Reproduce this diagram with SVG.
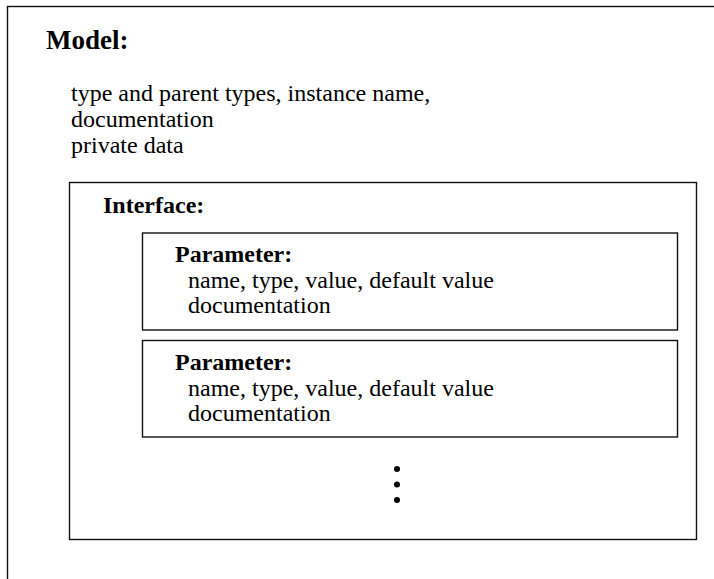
<svg xmlns="http://www.w3.org/2000/svg" width="714" height="579" viewBox="0 0 714 579">
  <style>
    .box { fill: none; stroke: #111; stroke-width: 1.4; }
    .head { font-family: "Liberation Serif", "Times New Roman", serif; font-weight: bold; fill: #000; }
    .body { font-family: "Liberation Serif", "Times New Roman", serif; font-size: 24px; fill: #000; }
    .dot { fill: #000; }
  </style>
  <rect width="714" height="579" fill="#fff"/>

  <!-- Model container (runs past the right and bottom edges) -->
  <g id="model">
    <rect class="box" x="7.5" y="6.5" width="800" height="700"/>
    <text class="head" x="46" y="49" font-size="27">Model:</text>
    <text class="body" x="71" y="101">type and parent types, instance name,</text>
    <text class="body" x="71" y="127">documentation</text>
    <text class="body" x="71" y="153">private data</text>
  </g>

  <!-- Interface container -->
  <g id="interface">
    <rect class="box" x="69.5" y="182.5" width="627" height="357"/>
    <text class="head" x="103" y="213" font-size="24">Interface:</text>
  </g>

  <!-- First parameter -->
  <g id="parameter1">
    <rect class="box" x="142.5" y="233" width="535" height="97"/>
    <text class="head" x="175" y="262" font-size="24">Parameter:</text>
    <text class="body" x="188" y="288">name, type, value, default value</text>
    <text class="body" x="188" y="313">documentation</text>
  </g>

  <!-- Second parameter -->
  <g id="parameter2">
    <rect class="box" x="142.5" y="340.5" width="535" height="96.5"/>
    <text class="head" x="175" y="370" font-size="24">Parameter:</text>
    <text class="body" x="188" y="396">name, type, value, default value</text>
    <text class="body" x="188" y="421">documentation</text>
  </g>

  <!-- Ellipsis: more parameters follow -->
  <g id="more">
    <circle class="dot" cx="397" cy="469" r="3"/>
    <circle class="dot" cx="397" cy="484.5" r="3"/>
    <circle class="dot" cx="397" cy="500" r="3"/>
  </g>

  <g id="connectors"/>
</svg>
